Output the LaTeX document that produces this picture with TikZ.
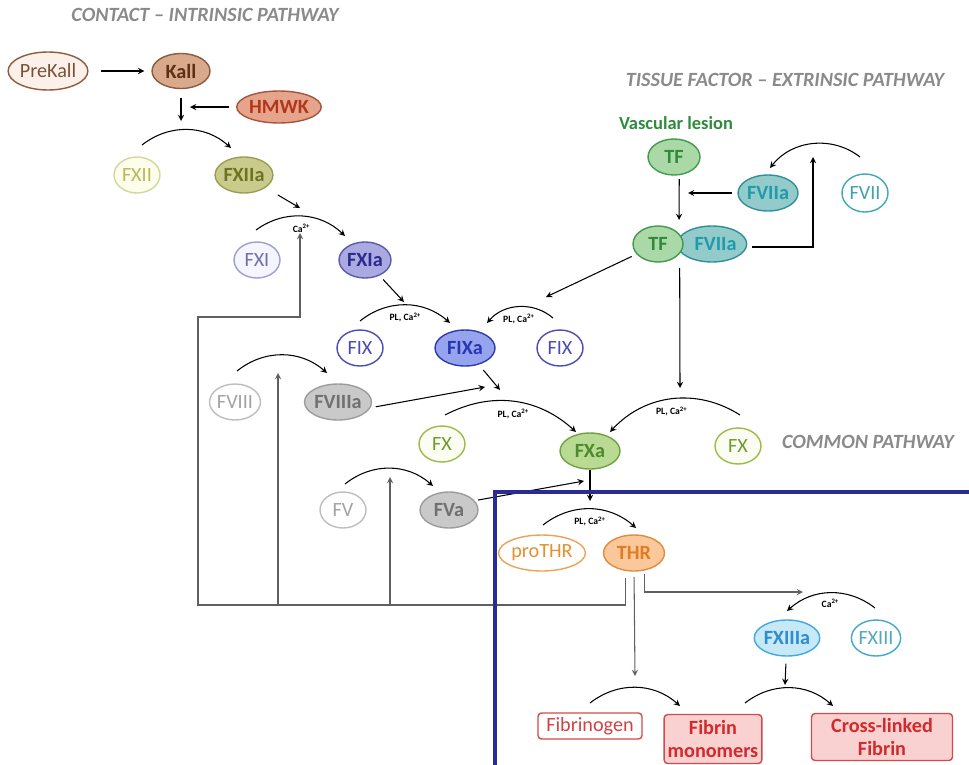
\documentclass[tikz,border=0pt]{standalone}
\usepackage{fontspec}
\setmainfont{Carlito}
\usetikzlibrary{shapes.geometric}

\definecolor{titlegray}{HTML}{8A8A8A}
\definecolor{brownL}{HTML}{FBF1EA}
\definecolor{brownF}{HTML}{D8A98B}
\definecolor{brownD}{HTML}{8A5C40}
\definecolor{brownT}{HTML}{7A5038}
\definecolor{brownA}{HTML}{5C3012}
\definecolor{hmwkF}{HTML}{E6A48C}
\definecolor{hmwkD}{HTML}{A5553A}
\definecolor{hmwkT}{HTML}{B2361A}
\definecolor{oliveL}{HTML}{FCFDEB}
\definecolor{oliveLD}{HTML}{D3D79B}
\definecolor{oliveLT}{HTML}{B8B85A}
\definecolor{oliveF}{HTML}{C9CB8D}
\definecolor{oliveD}{HTML}{9C9D55}
\definecolor{oliveT}{HTML}{6E7322}
\definecolor{lavL}{HTML}{F5F5FD}
\definecolor{lavLD}{HTML}{9F9DD3}
\definecolor{lavLT}{HTML}{706EAB}
\definecolor{lavF}{HTML}{AAA9E2}
\definecolor{lavD}{HTML}{5C5BAA}
\definecolor{lavT}{HTML}{2C2B8C}
\definecolor{blueLD}{HTML}{4C4CB4}
\definecolor{blueF}{HTML}{96A3EF}
\definecolor{blueD}{HTML}{2C3CA8}
\definecolor{blueT}{HTML}{2838B2}
\definecolor{grayLD}{HTML}{BEBEBE}
\definecolor{grayLT}{HTML}{A2A2A2}
\definecolor{grayF}{HTML}{C9C9C9}
\definecolor{grayD}{HTML}{9C9C9C}
\definecolor{grayT}{HTML}{707070}
\definecolor{limeL}{HTML}{FBFDF3}
\definecolor{limeLD}{HTML}{9CBC48}
\definecolor{limeLT}{HTML}{6F9B2C}
\definecolor{limeF}{HTML}{B8DA93}
\definecolor{limeD}{HTML}{6FA142}
\definecolor{limeT}{HTML}{4B8B2B}
\definecolor{orangeLD}{HTML}{EBA455}
\definecolor{orangeLT}{HTML}{E3922F}
\definecolor{orangeF}{HTML}{FAC89B}
\definecolor{orangeD}{HTML}{E18C3E}
\definecolor{orangeT}{HTML}{E27B22}
\definecolor{skyLD}{HTML}{41A9C9}
\definecolor{skyLT}{HTML}{52A9C1}
\definecolor{skyF}{HTML}{C7E8F7}
\definecolor{skyD}{HTML}{40A9DF}
\definecolor{skyT}{HTML}{2F8DCC}
\definecolor{greenF}{HTML}{AAD9A7}
\definecolor{greenD}{HTML}{409B4B}
\definecolor{greenT}{HTML}{2F8B3B}
\definecolor{tealLD}{HTML}{41A9B1}
\definecolor{tealLT}{HTML}{41A1B1}
\definecolor{tealF}{HTML}{93CACA}
\definecolor{tealD}{HTML}{309099}
\definecolor{tealT}{HTML}{1F9BAB}
\definecolor{redD}{HTML}{D24A4A}
\definecolor{redLT}{HTML}{D24242}
\definecolor{redF}{HTML}{F9D1D1}
\definecolor{redT}{HTML}{D22A2A}
\definecolor{fbgray}{HTML}{606060}
\definecolor{boxblue}{HTML}{2B2B95}

\begin{document}
\begin{tikzpicture}[x=0.02cm,y=-0.02cm,-,>=stealth,semithick,
    fac/.style={ellipse,draw,line width=0.8pt,inner sep=0pt,minimum width=0.92cm,minimum height=0.72cm,font=\fontsize{11.5}{12}\selectfont},
    act/.style={fac,minimum width=1.2cm,font=\fontsize{11.5}{12}\selectfont\bfseries},
    prod/.style={rectangle,rounded corners=2pt,draw=redD,line width=0.8pt,align=center,inner sep=2pt},
    lbl/.style={font=\fontsize{5.5}{6}\selectfont\bfseries,text=black},
    title/.style={font=\fontsize{11.5}{12}\selectfont\bfseries\itshape,text=titlegray},
    fb/.style={draw=fbgray}]

\useasboundingbox (0,0) rectangle (969,764);

% titles
\node[title] (tcontact) at (205,15) {CONTACT – INTRINSIC PATHWAY};
\node[title] (ttissue) at (785,80) {TISSUE FACTOR – EXTRINSIC PATHWAY};
\node[title] (tcommon) at (868,442) {COMMON PATHWAY};
\node[font=\fontsize{10.5}{11}\selectfont\bfseries,text=greenT] (lesion) at (676,123) {Vascular lesion};

% contact pathway
\node[fac,minimum width=1.52cm,minimum height=0.76cm,fill=brownL,draw=brownD,text=brownT] (prekall) at (48,71) {PreKall};
\node[act,minimum width=1.16cm,minimum height=0.7cm,fill=brownF,draw=brownD,text=brownA] (kall) at (181,71) {Kall};
\node[act,minimum width=1.52cm,minimum height=0.64cm,fill=hmwkF,draw=hmwkD,text=hmwkT] (hmwk) at (279,107) {HMWK};
\node[fac,fill=oliveL,draw=oliveLD,text=oliveLT] (fxii) at (137,175) {FXII};
\node[act,minimum width=1.04cm,fill=oliveF,draw=oliveD,text=oliveT] (fxiia) at (244,175) {FXIIa};
\node[fac,fill=lavL,draw=lavLD,text=lavLT] (fxi) at (257,260) {FXI};
\node[act,minimum width=1.04cm,fill=lavF,draw=lavD,text=lavT] (fxia) at (365,260) {FXIa};
\node[fac,fill=white,draw=blueLD,text=blueLD] (fixl) at (360,348) {FIX};
\node[act,fill=blueF,draw=blueD,text=blueT] (fixa) at (465,348) {FIXa};
\node[fac,fill=white,draw=blueLD,text=blueLD] (fixr) at (560,348) {FIX};
\node[fac,fill=white,draw=grayLD,text=grayLT] (fviii) at (235,402) {FVIII};
\node[act,fill=grayF,draw=grayD,text=grayT] (fviiia) at (338,402) {FVIIIa};
\node[fac,fill=limeL,draw=limeLD,text=limeLT] (fxl) at (442,444) {FX};
\node[act,fill=limeF,draw=limeD,text=limeT] (fxa) at (590,451) {FXa};
\node[fac,fill=limeL,draw=limeLD,text=limeLT] (fxr) at (738,446) {FX};
\node[fac,fill=white,draw=grayLD,text=grayLT] (fv) at (343,510) {FV};
\node[act,minimum width=1.16cm,fill=grayF,draw=grayD,text=grayT] (fva) at (449,510) {FVa};

% tissue factor pathway
\node[act,minimum width=1.04cm,fill=greenF,draw=greenD,text=greenT] (tf) at (674,157) {TF};
\node[act,fill=tealF,draw=tealD,text=tealT] (fviia) at (768,193) {FVIIa};
\node[fac,minimum height=0.76cm,fill=white,draw=tealLD,text=tealLT] (fvii) at (865,193) {FVII};
\node[act,minimum width=1.16cm,fill=tealF,draw=tealD,text=tealT] (cfviia) at (712,244) {\hspace{4pt}FVIIa};
\node[act,minimum width=1cm,fill=greenF,draw=greenD,text=greenT] (ctf) at (658,244) {TF};

% common pathway
\node[fac,minimum width=1.64cm,fill=white,draw=orangeLD,text=orangeLT] (prothr) at (542,553) {proTHR};
\node[act,minimum width=1.22cm,fill=orangeF,draw=orangeD,text=orangeT] (thr) at (634,553) {THR};
\node[act,minimum width=1.22cm,fill=skyF,draw=skyD,text=skyT] (fxiiia) at (787,638) {FXIIIa};
\node[fac,fill=white,draw=skyLD,text=skyLT] (fxiii) at (876,638) {FXIII};
\node[prod,fill=white,text=redLT,minimum width=2.08cm,minimum height=0.52cm,font=\fontsize{11.5}{12}\selectfont] (fibrinogen) at (590,726) {Fibrinogen};
\node[prod,fill=redF,text=redT,minimum width=1.94cm,minimum height=0.98cm,font=\fontsize{11.5}{13}\selectfont\bfseries] (fibrin) at (713,739) {Fibrin\\monomers};
\node[prod,fill=redF,text=redT,minimum width=2.82cm,minimum height=0.94cm,font=\fontsize{11.5}{13}\selectfont\bfseries] (crossfib) at (882,737) {Cross-linked\\Fibrin};

% arc and arrow ends
\coordinate (k1) at (181,121);
\coordinate (h1) at (190,107);
\coordinate (xiis) at (142,145);
\coordinate (xiie) at (231,148);
\coordinate (xiia1) at (300,208);
\coordinate (xis) at (256,230);
\coordinate (xie) at (345,236);
\coordinate (xia1) at (404,302);
\coordinate (ixls) at (360,321);
\coordinate (ixle) at (450,323);
\coordinate (ixrs) at (553,318);
\coordinate (ixre) at (487,323);
\coordinate (tfix) at (546,297);
\coordinate (viiis) at (237,371);
\coordinate (viiie) at (327,373);
\coordinate (ixa1) at (500,390);
\coordinate (viiia1) at (485,387);
\coordinate (xls) at (445,415);
\coordinate (xle) at (576,432);
\coordinate (xrs) at (740,415);
\coordinate (xre) at (610,432);
\coordinate (tfx) at (680,388);
\coordinate (vs) at (345,484);
\coordinate (ve) at (433,486);
\coordinate (va1) at (584,481);
\coordinate (xa1) at (590,501);
\coordinate (thrs) at (543,525);
\coordinate (thre) at (636,528);
\coordinate (fbr) at (198,605);
\coordinate (fbt) at (198,317);
\coordinate (ca1) at (300,233);
\coordinate (fb8) at (278,605);
\coordinate (fb8t) at (278,373);
\coordinate (fb5) at (390,605);
\coordinate (fb5t) at (390,477);
\coordinate (thr13) at (803,592);
\coordinate (thrfg) at (635,676);
\coordinate (xiiis) at (875,608);
\coordinate (xiiie) at (787,611);
\coordinate (xiiia1) at (785,685);
\coordinate (fgs) at (590,703);
\coordinate (fge) at (680,706);
\coordinate (cls) at (745,703);
\coordinate (cle) at (833,706);
\coordinate (tf1) at (679,220);
\coordinate (viia1) at (688,193);
\coordinate (viis) at (860,157);
\coordinate (viie) at (770,168);
\coordinate (cplx) at (813,157);

% straight arrows
\path[->,every node/.style={lbl}]
    (prekall) edge[shorten <=7pt,shorten >=4pt] (kall)
    (kall) edge[shorten <=5pt] (k1)
    (hmwk) edge[shorten <=4pt] (h1)
    (fxiia) edge[shorten <=8pt] (xiia1)
    (fxia) edge[shorten <=3pt] (xia1)
    (ctf) edge[shorten <=3pt] (tfix)
    (fixa) edge[shorten <=4pt] (ixa1)
    (fviiia.-10) edge[shorten <=3pt] (viiia1)
    (fva.20) edge[shorten <=2pt] (va1)
    (fxa) edge (xa1)
    (fxiiia) edge[shorten <=4pt] (xiiia1)
    (fviia) edge[shorten <=3pt] (viia1)
    ([xshift=3pt]tf.south) edge[shorten <=2pt] (tf1)
    ([xshift=2pt,yshift=-6pt]ctf.south east) edge (tfx);

% arcs
\path[->,every node/.style={lbl}]
    (xiis) edge[bend left=40] (xiie)
    (xis) edge[bend left=40] node[yshift=-7pt]{Ca\textsuperscript{2+}} (xie)
    (ixls) edge[bend left=40] node[yshift=-7pt]{PL, Ca\textsuperscript{2+}} (ixle)
    (ixrs) edge[bend right=45] node[yshift=-7pt]{PL, Ca\textsuperscript{2+}} (ixre)
    (viiis) edge[bend left=40] (viiie)
    (xls) edge[bend left=35] node[yshift=-7pt]{PL, Ca\textsuperscript{2+}} (xle)
    (xrs) edge[bend right=40] node[yshift=-7pt]{PL, Ca\textsuperscript{2+}} (xre)
    (vs) edge[bend left=40] (ve)
    (thrs) edge[bend left=40] node[yshift=-7pt]{PL, Ca\textsuperscript{2+}} (thre)
    (viis) edge[bend right=45] (viie)
    (xiiis) edge[bend right=40] node[yshift=-6pt]{Ca\textsuperscript{2+}} (xiiie)
    (fgs) edge[bend left=40] (fge)
    (cls) edge[bend left=40] (cle);

% feedback from the complex and from thrombin
\draw[->] (cfviia.east) ++(5,3) -| (cplx);
\draw[->,fb,shorten <=4pt] (thr.-115) |- (fbr) -- (fbt) -| (ca1);
\draw[->,fb] (fb8) -- (fb8t);
\draw[->,fb] (fb5) -- (fb5t);
\draw[->,fb,shorten <=3pt] (thr.south) -- (thrfg);
\draw[->,fb,shorten <=2pt] (thr.-58) |- (thr13);

% common pathway frame
\draw[line width=2.6pt,boxblue] (495,780) |- (980,492);
\end{tikzpicture}
\end{document}
